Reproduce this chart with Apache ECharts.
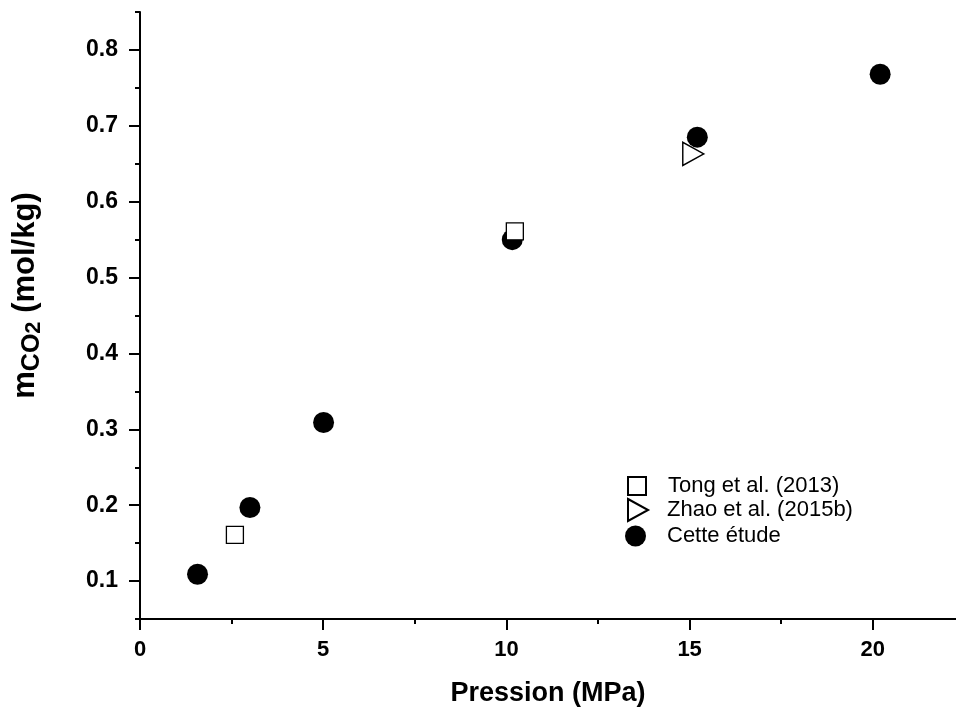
<!DOCTYPE html>
<html>
<head>
<meta charset="utf-8">
<script src="https://cdn.jsdelivr.net/npm/echarts@6/dist/echarts.min.js"></script>
<style>
  html, body { margin: 0; padding: 0; background: #fff; }
  #chart { width: 956px; height: 713px; }
</style>
</head>
<body>
<div id="chart"></div>
<script>
// ---- Data ----
const tongData = [[2.59, 0.161], [10.23, 0.561]];
const zhaoData = [[15.1, 0.663]];
const cetteData = [[1.57, 0.109], [3.0, 0.197], [5.01, 0.309], [10.16, 0.550], [15.21, 0.685], [20.2, 0.768]];

const seriesNames = ['Tong et al. (2013)', 'Zhao et al. (2015b)', 'Cette étude'];

const xMajorTicks = [0, 5, 10, 15, 20];
const xMinorTicks = [2.5, 7.5, 12.5, 17.5];
const yMajorTicks = [0.1, 0.2, 0.3, 0.4, 0.5, 0.6, 0.7, 0.8];
const yMinorTicks = [0.05, 0.15, 0.25, 0.35, 0.45, 0.55, 0.65, 0.75, 0.85];

const FONT = 'Liberation Sans, Arial, Helvetica, sans-serif';

const chart = echarts.init(document.getElementById('chart'));

const axisLineStyle = { color: '#000', width: 2 };

const option = {
  animation: false,
  backgroundColor: '#fff',
  grid: { left: 140, right: 0, top: 12, bottom: 94, containLabel: false },
  xAxis: [
    {
      type: 'value', min: 0, max: 22.27, position: 'bottom',
      axisLine: { show: true, onZero: false, lineStyle: axisLineStyle },
      axisTick: { show: true, inside: false, length: 11, customValues: xMajorTicks, lineStyle: axisLineStyle },
      axisLabel: { show: true, customValues: xMajorTicks, margin: 20, fontSize: 22, fontWeight: 'bold', color: '#000', fontFamily: FONT },
      splitLine: { show: false },
      name: 'Pression (MPa)', nameLocation: 'middle', nameGap: 61,
      nameTextStyle: { fontSize: 27, fontWeight: 'bold', color: '#000', lineHeight: 27, fontFamily: FONT }
    },
    {
      type: 'value', min: 0, max: 22.27, position: 'bottom',
      axisLine: { show: false },
      axisTick: { show: true, inside: false, length: 5, customValues: xMinorTicks, lineStyle: axisLineStyle },
      axisLabel: { show: false },
      splitLine: { show: false }
    }
  ],
  yAxis: [
    {
      type: 'value', min: 0.05, max: 0.85, position: 'left',
      axisLine: { show: true, onZero: false, lineStyle: axisLineStyle },
      axisTick: { show: true, inside: false, length: 11, customValues: yMajorTicks, lineStyle: axisLineStyle },
      axisLabel: { show: true, customValues: yMajorTicks, margin: 22, fontSize: 23, fontWeight: 'bold', color: '#000', fontFamily: FONT,
        formatter: function (v) { return v.toFixed(1); } },
      splitLine: { show: false },
      name: '{m|m}{s|CO}{ss|2}{m| (mol/kg)}',
      nameLocation: 'middle', nameRotate: 90, nameGap: 95,
      nameTextStyle: {
        color: '#000',
        padding: [0, 0, 0, 40],
        rich: {
          m: { fontSize: 31, fontWeight: 'bold', lineHeight: 40, verticalAlign: 'middle', color: '#000', fontFamily: FONT },
          s: { fontSize: 25, fontWeight: 'bold', lineHeight: 30, verticalAlign: 'bottom', color: '#000', fontFamily: FONT },
          ss: { fontSize: 22, fontWeight: 'bold', lineHeight: 17, verticalAlign: 'bottom', color: '#000', fontFamily: FONT }
        }
      }
    },
    {
      type: 'value', min: 0.05, max: 0.85, position: 'left',
      axisLine: { show: false },
      axisTick: { show: true, inside: false, length: 5, customValues: yMinorTicks, lineStyle: axisLineStyle },
      axisLabel: { show: false },
      splitLine: { show: false }
    }
  ],
  legend: [
    {
      data: [seriesNames[0]], orient: 'vertical', left: 627, top: 475,
      itemWidth: 18, itemHeight: 18, itemGap: 0, padding: 0,
      selectedMode: false,
      textStyle: { fontSize: 22, color: '#000', fontFamily: FONT, lineHeight: 16, padding: [0, 0, 0, 17] }
    },
    {
      data: [{ name: seriesNames[1], icon: 'path://M0,0L21,11.5L0,23Z' }], orient: 'vertical', left: 627, top: 498,
      itemWidth: 22, itemHeight: 22, itemGap: 0, padding: 0,
      selectedMode: false,
      textStyle: { fontSize: 22, color: '#000', fontFamily: FONT, lineHeight: 16, padding: [0, 0, 0, 13] }
    },
    {
      data: [seriesNames[2]], orient: 'vertical', left: 625, top: 525,
      itemWidth: 21, itemHeight: 21, itemGap: 0, padding: 0,
      selectedMode: false,
      textStyle: { fontSize: 22, color: '#000', fontFamily: FONT, lineHeight: 16, padding: [0, 0, 0, 16] }
    }
  ],
  series: [
    {
      name: seriesNames[0], type: 'scatter', xAxisIndex: 0, yAxisIndex: 0,
      symbol: 'rect', symbolSize: 17, z: 4,
      itemStyle: { color: '#fff', borderColor: '#000', borderWidth: 1.3, opacity: 1 },
      emphasis: { disabled: true },
      data: tongData
    },
    {
      name: seriesNames[1], type: 'scatter', xAxisIndex: 0, yAxisIndex: 0,
      symbol: 'triangle', symbolRotate: -90, symbolSize: [23, 21], z: 2,
      itemStyle: { color: '#fff', borderColor: '#000', borderWidth: 1.5, opacity: 1 },
      emphasis: { disabled: true },
      data: zhaoData
    },
    {
      name: seriesNames[2], type: 'scatter', xAxisIndex: 0, yAxisIndex: 0,
      symbol: 'circle', symbolSize: 21, z: 3,
      itemStyle: { color: '#000', opacity: 1 },
      emphasis: { disabled: true },
      data: cetteData
    }
  ]
};

chart.setOption(option);
</script>
</body>
</html>
